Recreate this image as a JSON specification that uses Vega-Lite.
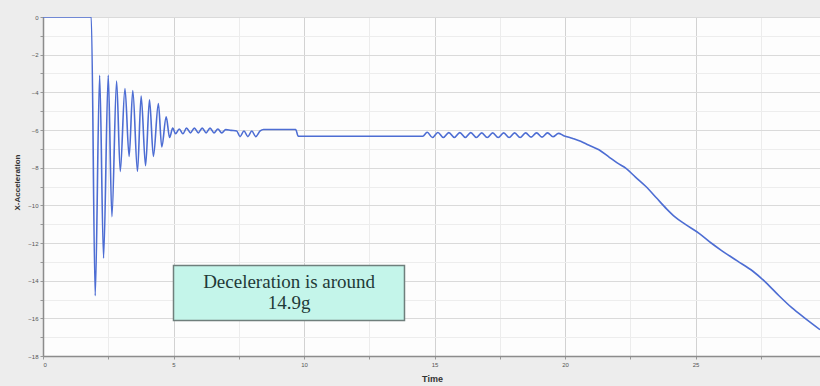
{
  "$schema": "https://vega.github.io/schema/vega-lite/v6.json",
  "width": 777,
  "height": 339,
  "autosize": "none",
  "padding": {"left": 43, "top": 17, "right": 0, "bottom": 30},
  "background": "#ededed",
  "config": {
    "view": {"fill": "#fdfdfd", "stroke": "#c8c8c8"},
    "axis": {"labelFont": "Liberation Sans", "titleFont": "Liberation Sans", "labelColor": "#555555", "titleColor": "#333333"}
  },
  "encoding": {
    "x": {
      "field": "t", "type": "quantitative",
      "scale": {"domain": [0, 29.77], "nice": false, "zero": false},
      "axis": {
        "title": "Time",
        "titleFontSize": 9, "titleFontWeight": "bold",
        "titleX": 389, "titleY": 22, "titleBaseline": "middle",
        "values": [0, 2.5, 5, 7.5, 10, 12.5, 15, 17.5, 20, 22.5, 25, 27.5],
        "labelExpr": "datum.value % 5 === 0 ? datum.label : ''",
        "labelFontSize": 6, "labelPadding": 2,
        "tickSize": 3, "tickColor": "#999999",
        "domainColor": "#8c8c8c", "domainWidth": 1.5,
        "grid": true,
        "gridColor": {"condition": {"test": "datum.value % 5 === 0", "value": "#d2d2d2"}, "value": "#ececec"}
      }
    },
    "y": {
      "field": "acc", "type": "quantitative",
      "scale": {"domain": [-18, 0], "nice": false, "zero": false},
      "axis": {
        "title": "X-Acceleration",
        "titleFontSize": 8, "titleFontWeight": "bold",
        "titleX": -26, "titleY": 165, "titleAngle": -90, "titleBaseline": "middle",
        "values": [-18, -17, -16, -15, -14, -13, -12, -11, -10, -9, -8, -7, -6, -5, -4, -3, -2, -1, 0],
        "labelExpr": "datum.value % 2 === 0 ? datum.label : ''",
        "labelFontSize": 6, "labelPadding": 2,
        "tickSize": 3, "tickColor": "#999999",
        "domainColor": "#8c8c8c", "domainWidth": 1.5,
        "grid": true,
        "gridColor": {"condition": {"test": "datum.value % 2 === 0", "value": "#dadada"}, "value": "#ededed"}
      }
    }
  },
  "layer": [
    {
      "data": {"values": [
        {"t": 0, "acc": 0},
        {"t": 1.85, "acc": 0},
        {"t": 2.0, "acc": -14.8},
        {"t": 2.17, "acc": -3.1},
        {"t": 2.32, "acc": -12.8},
        {"t": 2.5, "acc": -3.1},
        {"t": 2.64, "acc": -10.6},
        {"t": 2.82, "acc": -3.4},
        {"t": 2.96, "acc": -8.2},
        {"t": 3.14, "acc": -3.8},
        {"t": 3.3, "acc": -7.4},
        {"t": 3.44, "acc": -3.9},
        {"t": 3.62, "acc": -8.2},
        {"t": 3.76, "acc": -4.2},
        {"t": 3.93, "acc": -7.9},
        {"t": 4.08, "acc": -4.4},
        {"t": 4.23, "acc": -7.4},
        {"t": 4.42, "acc": -4.6},
        {"t": 4.55, "acc": -6.9},
        {"t": 4.72, "acc": -5.3},
        {"t": 4.85, "acc": -6.4},
        {"t": 4.97, "acc": -5.9},
        {"t": 5.08, "acc": -6.2},
        {"t": 5.22, "acc": -5.95},
        {"t": 5.36, "acc": -6.2},
        {"t": 5.5, "acc": -5.9},
        {"t": 5.65, "acc": -6.15},
        {"t": 5.8, "acc": -5.9},
        {"t": 5.95, "acc": -6.15},
        {"t": 6.1, "acc": -5.9},
        {"t": 6.25, "acc": -6.15},
        {"t": 6.4, "acc": -5.9},
        {"t": 6.55, "acc": -6.15},
        {"t": 6.7, "acc": -5.95},
        {"t": 6.85, "acc": -6.15},
        {"t": 7.0, "acc": -5.98},
        {"t": 7.2, "acc": -6.02},
        {"t": 7.42, "acc": -6.05},
        {"t": 7.55, "acc": -6.35},
        {"t": 7.7, "acc": -6.05},
        {"t": 7.85, "acc": -6.35},
        {"t": 8.0, "acc": -6.05},
        {"t": 8.15, "acc": -6.35},
        {"t": 8.32, "acc": -6.05},
        {"t": 8.45, "acc": -5.97},
        {"t": 9.68, "acc": -5.97},
        {"t": 9.78, "acc": -6.33},
        {"t": 14.55, "acc": -6.33},
        {"t": 14.72, "acc": -6.12},
        {"t": 14.92, "acc": -6.4},
        {"t": 15.13, "acc": -6.13},
        {"t": 15.34, "acc": -6.4},
        {"t": 15.55, "acc": -6.14},
        {"t": 15.76, "acc": -6.4},
        {"t": 15.97, "acc": -6.14},
        {"t": 16.18, "acc": -6.4},
        {"t": 16.39, "acc": -6.14},
        {"t": 16.6, "acc": -6.4},
        {"t": 16.81, "acc": -6.15},
        {"t": 17.02, "acc": -6.4},
        {"t": 17.23, "acc": -6.15},
        {"t": 17.44, "acc": -6.4},
        {"t": 17.65, "acc": -6.15},
        {"t": 17.86, "acc": -6.4},
        {"t": 18.07, "acc": -6.15},
        {"t": 18.28, "acc": -6.4},
        {"t": 18.49, "acc": -6.15},
        {"t": 18.7, "acc": -6.38},
        {"t": 18.91, "acc": -6.15},
        {"t": 19.12, "acc": -6.38},
        {"t": 19.33, "acc": -6.15},
        {"t": 19.54, "acc": -6.36},
        {"t": 19.75, "acc": -6.18},
        {"t": 19.95, "acc": -6.3},
        {"t": 20.3, "acc": -6.45},
        {"t": 20.6, "acc": -6.6},
        {"t": 20.9, "acc": -6.8},
        {"t": 21.3, "acc": -7.05},
        {"t": 21.7, "acc": -7.45},
        {"t": 22.0, "acc": -7.75},
        {"t": 22.35, "acc": -8.05},
        {"t": 22.7, "acc": -8.5},
        {"t": 23.1, "acc": -9.0},
        {"t": 23.5, "acc": -9.6},
        {"t": 23.9, "acc": -10.2},
        {"t": 24.2, "acc": -10.6},
        {"t": 24.6, "acc": -11.0},
        {"t": 25.15, "acc": -11.5},
        {"t": 25.6, "acc": -12.0},
        {"t": 26.0, "acc": -12.4},
        {"t": 26.6, "acc": -12.95},
        {"t": 27.2, "acc": -13.5},
        {"t": 27.7, "acc": -14.1},
        {"t": 28.2, "acc": -14.8},
        {"t": 28.7, "acc": -15.45},
        {"t": 29.2, "acc": -16.0},
        {"t": 29.77, "acc": -16.6}
      ]},
      "mark": {"type": "line", "color": "#4d6dd3", "strokeWidth": 1.6, "interpolate": "monotone", "clip": true}
    },
    {
      "data": {"values": [{"t": 5.0, "t2": 13.85, "acc": -13.19, "acc2": -16.12}]},
      "mark": {"type": "rect", "fill": "#c4f5ea", "stroke": "#6f7f7c", "strokeWidth": 1.5},
      "encoding": {
        "x2": {"field": "t2"},
        "y2": {"field": "acc2"}
      }
    },
    {
      "data": {"values": [
        {"t": 9.43, "acc": -14.08, "label": "Deceleration is around"},
        {"t": 9.43, "acc": -15.2, "label": "14.9g"}
      ]},
      "mark": {"type": "text", "font": "Liberation Serif", "fontSize": 19, "color": "#1f3a38", "align": "center", "baseline": "middle"},
      "encoding": {
        "text": {"field": "label"}
      }
    }
  ]
}
